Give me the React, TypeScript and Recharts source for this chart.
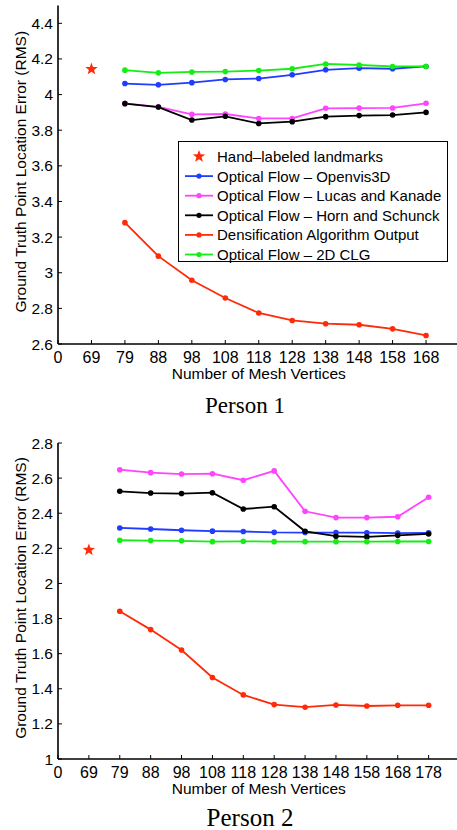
import React from 'react';
import { LineChart, Line, XAxis, YAxis, Legend, Label } from 'recharts';

const SANS = '"Liberation Sans", Arial, Helvetica, sans-serif';
const SERIF = '"Liberation Serif", "Times New Roman", serif';

// Person 1
const P1_TICKS = ['0', '69', '79', '88', '98', '108', '118', '128', '138', '148', '158', '168'];
const P1_VERTICES = ['79', '88', '98', '108', '118', '128', '138', '148', '158', '168'];
const P1_OPENVIS = [4.062, 4.055, 4.067, 4.085, 4.09, 4.111, 4.139, 4.148, 4.145, 4.158];
const P1_LUCAS = [3.951, 3.931, 3.889, 3.891, 3.866, 3.866, 3.923, 3.924, 3.925, 3.951];
const P1_HORN = [3.949, 3.93, 3.857, 3.878, 3.838, 3.848, 3.876, 3.882, 3.885, 3.9];
const P1_DENSE = [3.281, 3.093, 2.958, 2.858, 2.774, 2.732, 2.714, 2.708, 2.685, 2.648];
const P1_CLG = [4.137, 4.122, 4.127, 4.129, 4.135, 4.145, 4.172, 4.166, 4.158, 4.158];
const P1_HAND_AT = '69';
const P1_HAND = 4.143;
const P1_YTICKS = [2.6, 2.8, 3, 3.2, 3.4, 3.6, 3.8, 4, 4.2, 4.4];

// Person 2
const P2_TICKS = ['0', '69', '79', '88', '98', '108', '118', '128', '138', '148', '158', '168', '178'];
const P2_VERTICES = ['79', '88', '98', '108', '118', '128', '138', '148', '158', '168', '178'];
const P2_OPENVIS = [2.316, 2.31, 2.303, 2.298, 2.296, 2.291, 2.29, 2.29, 2.289, 2.287, 2.288];
const P2_LUCAS = [2.648, 2.631, 2.623, 2.625, 2.588, 2.641, 2.411, 2.375, 2.375, 2.38, 2.491];
const P2_HORN = [2.525, 2.515, 2.512, 2.517, 2.424, 2.437, 2.297, 2.269, 2.265, 2.274, 2.282];
const P2_DENSE = [1.842, 1.737, 1.621, 1.464, 1.365, 1.31, 1.295, 1.308, 1.302, 1.306, 1.306];
const P2_CLG = [2.246, 2.244, 2.243, 2.238, 2.24, 2.238, 2.238, 2.238, 2.238, 2.239, 2.239];
const P2_HAND_AT = '69';
const P2_HAND = 2.191;
const P2_YTICKS = [1, 1.2, 1.4, 1.6, 1.8, 2, 2.2, 2.4, 2.6, 2.8];

const SERIES = [
  { key: 'openvis', name: 'Optical Flow \u2013 Openvis3D', color: '#1f3cff' },
  { key: 'lucas', name: 'Optical Flow \u2013 Lucas and Kanade', color: '#ff44ff' },
  { key: 'horn', name: 'Optical Flow \u2013 Horn and Schunck', color: '#000000' },
  { key: 'dense', name: 'Densification Algorithm Output', color: '#ff2a08' },
  { key: 'clg', name: 'Optical Flow \u2013 2D CLG', color: '#14ee14' },
];
const HAND_NAME = 'Hand\u2013labeled landmarks';
const HAND_COLOR = '#ff2a08';

const buildRows = (ticks, vertices, series, handAt, hand) =>
  ticks.map((t, i) => {
    const row: any = { x: i };
    const j = vertices.indexOf(t);
    Object.keys(series).forEach(k => {
      row[k] = j >= 0 ? series[k][j] : null;
    });
    row.hand = t === handAt ? hand : null;
    return row;
  });

const P1_ROWS = buildRows(P1_TICKS, P1_VERTICES,
  { openvis: P1_OPENVIS, lucas: P1_LUCAS, horn: P1_HORN, dense: P1_DENSE, clg: P1_CLG }, P1_HAND_AT, P1_HAND);
const P2_ROWS = buildRows(P2_TICKS, P2_VERTICES,
  { openvis: P2_OPENVIS, lucas: P2_LUCAS, horn: P2_HORN, dense: P2_DENSE, clg: P2_CLG }, P2_HAND_AT, P2_HAND);

const starPoints = (cx: number, cy: number, ro: number, ri: number) => {
  const pts: string[] = [];
  for (let i = 0; i < 10; i++) {
    const r = i % 2 === 0 ? ro : ri;
    const a = -Math.PI / 2 + (i * Math.PI) / 5;
    pts.push(`${cx + r * Math.cos(a)},${cy + r * Math.sin(a)}`);
  }
  return pts.join(' ');
};

const StarDot = (props: any) => {
  const { cx, cy, value } = props;
  if (value == null || cx == null || cy == null) return <g key={props.key} />;
  return <polygon key={props.key} points={starPoints(cx, cy, 6.5, 2.7)} fill={HAND_COLOR} />;
};

const BottomTick = ({ x, y, payload, labels }: any) => (
  <g>
    <line x1={x} y1={y} x2={x} y2={y - 4} stroke="#000" strokeWidth={1} />
    <text x={x} y={y + 13} textAnchor="middle" dominantBaseline="central" fontSize={16} fontFamily={SANS} fill="#000">
      {labels[payload.value]}
    </text>
  </g>
);

const TopTick = ({ x, y }: any) => <line x1={x} y1={y} x2={x} y2={y + 4} stroke="#000" strokeWidth={1} />;

const LeftTick = ({ x, y, payload }: any) => (
  <g>
    <line x1={x} y1={y} x2={x + 4} y2={y} stroke="#000" strokeWidth={1} />
    <text x={x - 5} y={y} textAnchor="end" dominantBaseline="central" fontSize={15.5} fontFamily={SANS} fill="#000">
      {String(Math.round(payload.value * 10) / 10)}
    </text>
  </g>
);

const RightTick = ({ x, y }: any) => <line x1={x} y1={y} x2={x - 4} y2={y} stroke="#000" strokeWidth={1} />;

const YTitle = ({ viewBox }: any) => {
  const cy = viewBox.y + viewBox.height / 2 - 3;
  return (
    <text x={20} y={cy} transform={`rotate(-90, 20, ${cy})`} textAnchor="middle" dominantBaseline="central"
      fontSize={15.5} fontFamily={SANS} fill="#000">
      Ground Truth Point Location Error (RMS)
    </text>
  );
};

const XTitle = ({ viewBox }: any) => (
  <text x={viewBox.x + viewBox.width / 2} y={viewBox.y + 29} textAnchor="middle" dominantBaseline="central"
    fontSize={15.5} fontFamily={SANS} fill="#000">
    Number of Mesh Vertices
  </text>
);

const LegendBox = () => (
  <div style={{ width: 270, height: 121, border: '1.5px solid #000', background: '#fff', boxSizing: 'border-box', paddingTop: 3 }}>
    <svg width={267} height={118} style={{ overflow: 'visible' }}>
      {[{ key: 'hand', name: HAND_NAME, color: HAND_COLOR }, ...SERIES].map((s, i) => {
        const cy = 11.5 + i * 19.6;
        return (
          <g key={s.key}>
            {s.key === 'hand' ? (
              <polygon points={starPoints(20, cy, 6.5, 2.7)} fill={HAND_COLOR} />
            ) : (
              <>
                <line x1={6} y1={cy} x2={34} y2={cy} stroke={s.color} strokeWidth={1.8} />
                <circle cx={20} cy={cy} r={2.6} fill={s.color} />
              </>
            )}
            <text x={38} y={cy} dominantBaseline="central" fontSize={15} fontFamily={SANS} fill="#000">{s.name}</text>
          </g>
        );
      })}
    </svg>
  </div>
);

const axisLine = { stroke: '#000', strokeWidth: 1.6 };

const Panel = ({ rows, ticks, yTicks, yDomain, height, margin, legend }: any) => {
  const idx = ticks.map((_: string, i: number) => i);
  const xDomain = [0, ticks.length];
  return (
    <LineChart width={470} height={height} data={rows} margin={margin}>
      <XAxis xAxisId="b" dataKey="x" type="number" domain={xDomain} ticks={idx} interval={0} height={40}
        axisLine={axisLine} tickLine={false} tickSize={0} tickMargin={0}
        tick={<BottomTick labels={ticks} />}>
        <Label content={<XTitle />} />
      </XAxis>
      <XAxis xAxisId="t" orientation="top" dataKey="x" type="number" domain={xDomain} ticks={idx} interval={0} height={0}
        axisLine={axisLine} tickLine={false} tickSize={0} tickMargin={0} tick={<TopTick />} />
      <YAxis yAxisId="l" type="number" domain={yDomain} ticks={yTicks} interval={0} width={58}
        axisLine={axisLine} tickLine={false} tickSize={0} tickMargin={0} tick={<LeftTick />} allowDataOverflow>
        <Label content={<YTitle />} />
      </YAxis>
      <YAxis yAxisId="r" orientation="right" type="number" domain={yDomain} ticks={yTicks} interval={0} width={0}
        axisLine={axisLine} tickLine={false} tickSize={0} tickMargin={0} tick={<RightTick />} />
      <Line xAxisId="b" yAxisId="l" dataKey="hand" name={HAND_NAME} stroke="none" dot={StarDot}
        activeDot={false} isAnimationActive={false} legendType="star" />
      {SERIES.map(s => (
        <Line key={s.key} xAxisId="b" yAxisId="l" dataKey={s.key} name={s.name} stroke={s.color} strokeWidth={1.8}
          dot={{ r: 2.8, fill: s.color, stroke: s.color, strokeWidth: 0 }} activeDot={false}
          isAnimationActive={false} />
      ))}
      {legend && (
        <Legend layout="vertical" verticalAlign="middle" align="center" content={<LegendBox />}
          wrapperStyle={{ left: 178, top: 141, width: 270, height: 121 }} />
      )}
    </LineChart>
  );
};

export default function App() {
  return (
    <div style={{ position: 'fixed', left: 0, top: 0, width: 457, height: 830, overflow: 'hidden', background: '#fff' }}>
      <div style={{ position: 'absolute', left: 0, top: 0 }}>
        <Panel rows={P1_ROWS} ticks={P1_TICKS} yTicks={P1_YTICKS} yDomain={[2.6, 4.5]} height={400}
          margin={{ top: 5.5, right: 10.5, left: 0, bottom: 16 }} legend />
      </div>
      <div style={{ position: 'absolute', left: 145, top: 394, width: 200, textAlign: 'center',
        fontFamily: SERIF, fontSize: 23, lineHeight: '23px', color: '#000' }}>
        Person 1
      </div>
      <div style={{ position: 'absolute', left: 0, top: 400 }}>
        <Panel rows={P2_ROWS} ticks={P2_TICKS} yTicks={P2_YTICKS} yDomain={[1, 2.8]} height={410}
          margin={{ top: 43, right: 10.5, left: 0, bottom: 11 }} />
      </div>
      <div style={{ position: 'absolute', left: 150, top: 805, width: 200, textAlign: 'center',
        fontFamily: SERIF, fontSize: 25, lineHeight: '25px', color: '#000' }}>
        Person 2
      </div>
    </div>
  );
}
